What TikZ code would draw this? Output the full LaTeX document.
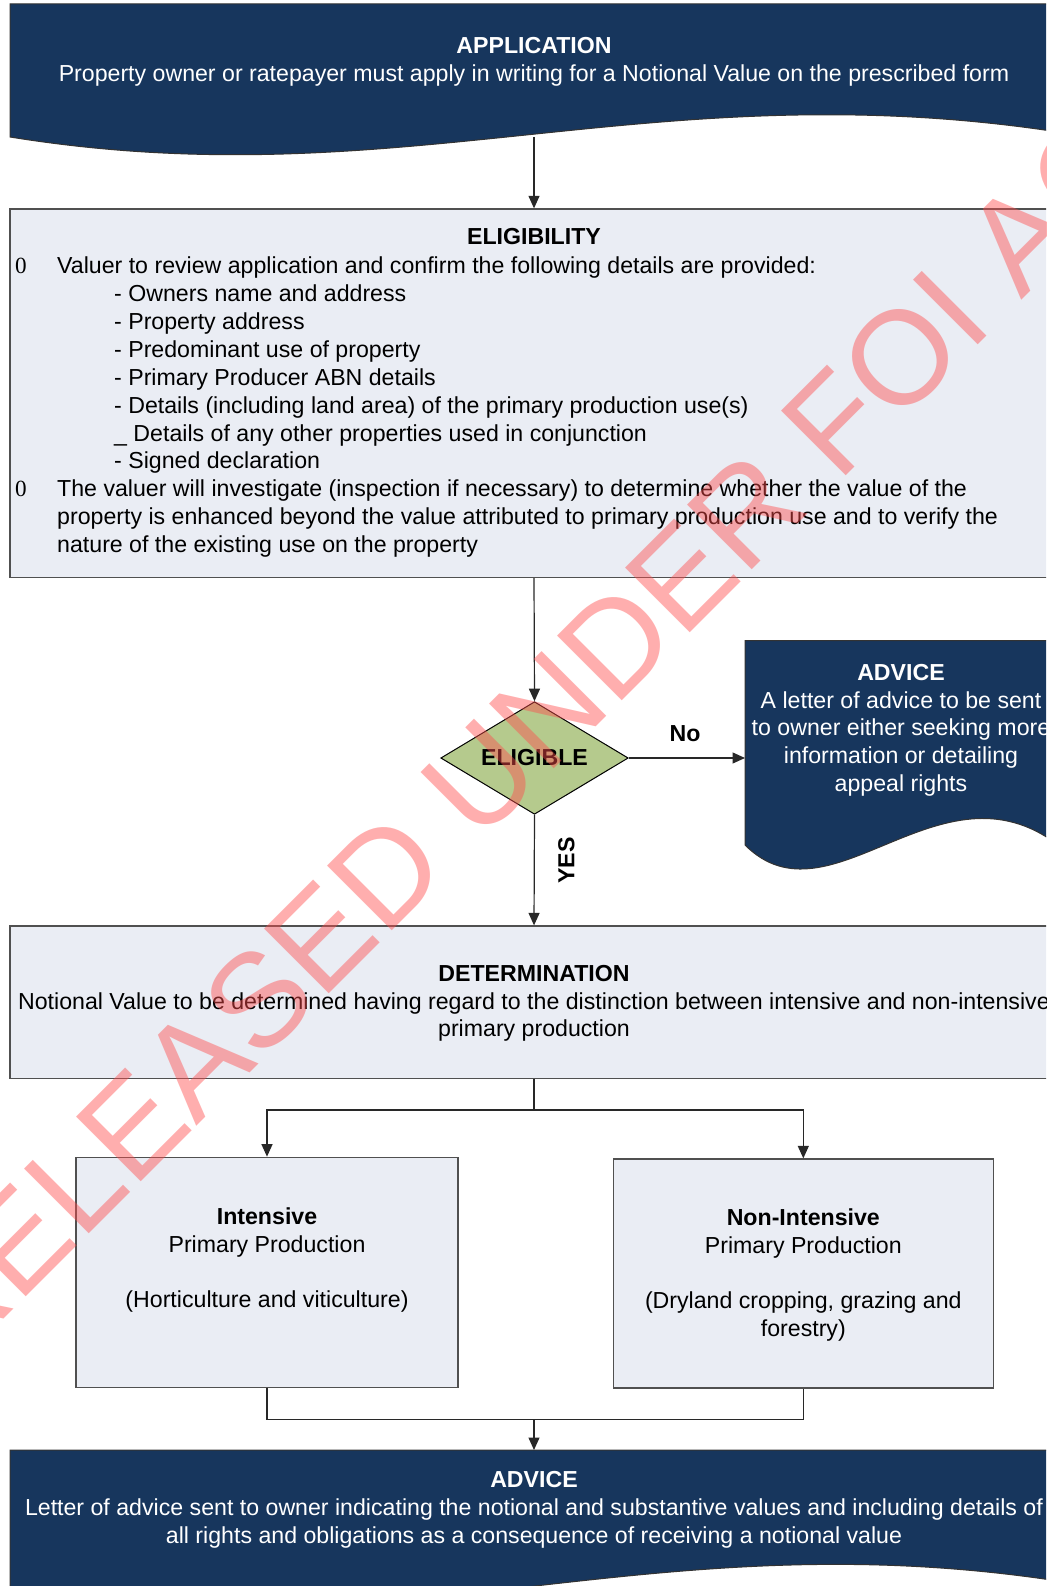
\documentclass[tikz,border=0pt]{standalone}
\usepackage{fontspec}
\setmainfont{Liberation Sans}
\newfontfamily\serifzero{Liberation Serif}
\usetikzlibrary{shapes.geometric,arrows.meta}
\definecolor{navy}{RGB}{23,54,93}
\definecolor{lightbox}{RGB}{234,237,244}
\definecolor{olivefill}{RGB}{181,202,141}
\definecolor{wmcol}{RGB}{255,77,77}
\definecolor{edgecol}{RGB}{80,80,80}
\definecolor{linecol}{RGB}{40,40,40}
\newcommand\topstrut{\rule{0pt}{20pt}}
\newcommand\bodyfont{\fontsize{23.15}{27.8}\selectfont}
\begin{document}
\begin{tikzpicture}[x=1pt,y=-1pt,
  txt/.style={font=\bodyfont, inner sep=0pt, align=center},
  ltxt/.style={font=\bodyfont, inner sep=0pt, anchor=base west},
  conn/.style={draw=linecol, line width=1.2pt},
  arr/.style={conn, -{Triangle[length=12.5pt,width=11pt]}},
  lbox/.style={draw=edgecol, fill=lightbox, line width=1.3pt, inner sep=0pt},
  dbox/.style={draw=black!80, fill=navy, line width=1pt},
  wtxt/.style={txt, text=white},
  anchorbox/.style={inner sep=0pt, outer sep=0pt, anchor=north west}
]
\useasboundingbox (0,0) rectangle (1046,1586);
\clip (0,0) rectangle (1046,1586);
\fill[white] (0,0) rectangle (1046,1586);

% ---------- APPLICATION (document shape) ----------
\node[anchorbox, minimum width=1048pt, minimum height=133pt] (app) at (10,4) {};
\path[dbox] (10,4) -- (1058,4) -- (1058,132)
  .. controls (650,70) and (400,200) .. (10,137) -- cycle;
\node[wtxt, anchor=north] (apptxt) at (534,33.3)
  {\topstrut\textbf{APPLICATION}\\Property owner or ratepayer must apply in writing for a Notional Value on the prescribed form};

% ---------- ELIGIBILITY ----------
\node[lbox, minimum width=1048pt, minimum height=368.5pt] (elig) at (534,393.25) {};
\node[txt, anchor=base] (eligt) at (534,245) {\bfseries ELIGIBILITY};
\node[ltxt] (b1) at (15,274) {\serifzero 0};
\node[ltxt] (e1) at (57,274) {Valuer to review application and confirm the following details are provided:};
\node[ltxt] (e2) at (114,301.85) {- Owners name and address};
\node[ltxt] (e3) at (114,329.7) {- Property address};
\node[ltxt] (e4) at (114,357.55) {- Predominant use of property};
\node[ltxt] (e5) at (114,385.4) {- Primary Producer ABN details};
\node[ltxt] (e6) at (114,413.25) {- Details (including land area) of the primary production use(s)};
\node[ltxt] (e7) at (114,441.1) {\textunderscore\ Details of any other properties used in conjunction};
\node[ltxt] (e8) at (114,468.95) {- Signed declaration};
\node[ltxt] (b2) at (15,496.8) {\serifzero 0};
\node[ltxt] (e9) at (57,496.8) {The valuer will investigate (inspection if necessary) to determine whether the value of the};
\node[ltxt] (e10) at (57,524.65) {property is enhanced beyond the value attributed to primary production use and to verify the};
\node[ltxt] (e11) at (57,552.5) {nature of the existing use on the property};

% ---------- decision ----------
\node[diamond, draw=black, fill=olivefill, line width=1pt, minimum width=187.5pt,
  minimum height=112.6pt, aspect=1.665, inner sep=0pt,
  font=\bodyfont\bfseries] (dia) at (534.5,758) {ELIGIBLE};

% ---------- ADVICE (right) ----------
\node[anchorbox, minimum width=310pt, minimum height=231pt] (adv) at (745,640.5) {};
\path[dbox] (745,640.5) -- (1058,640.5) -- (1058,845)
  .. controls (940,755) and (830,930) .. (745,845) -- cycle;
\node[wtxt, anchor=north] (advtxt) at (901,660)
  {\topstrut\textbf{ADVICE}\\A letter of advice to be sent\\to owner either seeking more\\information or detailing\\appeal rights};

% ---------- DETERMINATION ----------
\node[lbox, minimum width=1048pt, minimum height=152.3pt] (det) at (534,1002.15) {};
\node[txt, anchor=north] (dettxt) at (534,961)
  {\topstrut\textbf{DETERMINATION}\\Notional Value to be determined having regard to the distinction between intensive and non-intensive\\primary production};

% ---------- Intensive / Non-Intensive ----------
\node[lbox, minimum width=382pt, minimum height=230pt] (int) at (267,1272.3) {};
\node[txt, anchor=north] (inttxt) at (267,1204)
  {\topstrut\textbf{Intensive}\\Primary Production\\[27.8pt](Horticulture and viticulture)};
\node[lbox, minimum width=380pt, minimum height=229pt] (non) at (803.3,1273.5) {};
\node[txt, anchor=north] (nontxt) at (803.3,1205)
  {\topstrut\textbf{Non-Intensive}\\Primary Production\\[27.8pt](Dryland cropping, grazing and\\forestry)};

% ---------- ADVICE (bottom) ----------
\node[anchorbox, minimum width=1048pt, minimum height=140pt] (advb) at (10,1450) {};
\path[dbox] (10,1450) -- (1058,1450) -- (1058,1581)
  .. controls (650,1519) and (400,1655) .. (10,1592) -- cycle;
\node[wtxt, anchor=north] (advbtxt) at (534,1467.3)
  {\topstrut\textbf{ADVICE}\\Letter of advice sent to owner indicating the notional and substantive values and including details of\\all rights and obligations as a consequence of receiving a notional value};

% ---------- connectors ----------
\draw[arr] (app.south) -- (elig.north);
\draw[arr] (elig.south) -- (dia.north);
\draw[arr] (dia.east) -- (dia.east -| adv.west);
\node[txt, font=\bodyfont\bfseries] (nolab) at (685,733.5) {No};
\draw[arr] (dia.south) -- (det.north);
\node[txt, font=\bodyfont\bfseries, rotate=90] (yeslab) at (566.5,860.5) {YES};
\coordinate (split) at (534,1110);
\draw[conn] (det.south) -- (split);
\draw[arr] (split) -| (int.north);
\draw[arr] (split) -| (non.north);
\coordinate (join) at (534,1419.3);
\draw[conn] (int.south) |- (join) -| (non.south);
\draw[arr] (join) -- (advb.north);

% ---------- watermark ----------
\node[font=\fontsize{133}{133}\selectfont, text=wmcol, text opacity=.45, rotate=45,
  anchor=base, inner sep=0pt] (wmk) at (580.4,742.4) {RELEASED UNDER FOI ACT};
\end{tikzpicture}
\end{document}
